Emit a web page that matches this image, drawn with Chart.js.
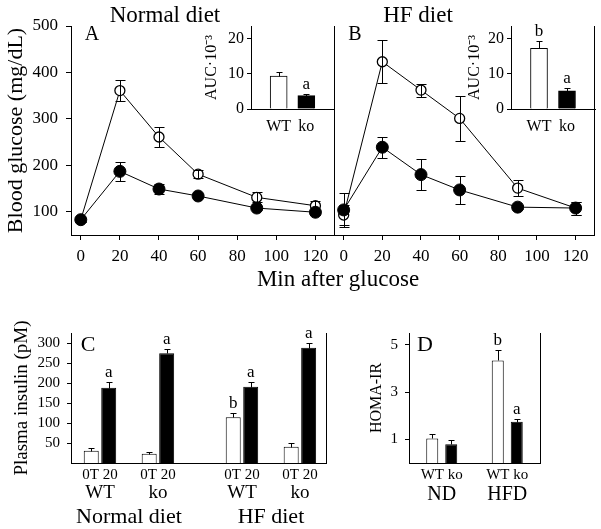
<!DOCTYPE html>
<html>
<head>
<meta charset="utf-8">
<title>Glucose tolerance, insulin and HOMA-IR</title>
<script src="https://cdn.jsdelivr.net/npm/chart.js@4.4.1/dist/chart.umd.min.js"></script>
<style>
    body { margin: 0; background: #fff; }
    #fig { position: relative; width: 601px; height: 529px; overflow: hidden; background: #fff; }
    #fig canvas { position: absolute; }
    .lbl { position: absolute; transform: translate(-50%, -50%); white-space: nowrap; line-height: 1;
           font-family: 'Liberation Serif', 'Times New Roman', serif; color: #000; }
</style>
</head>
<body>
<div id="fig">
    <canvas id="glucoseND" width="345" height="275" style="left:0;top:0"></canvas>
    <canvas id="glucoseHF" width="301" height="275" style="left:300px;top:0"></canvas>
    <canvas id="aucND" width="150" height="140" style="left:190px;top:0"></canvas>
    <canvas id="aucHF" width="151" height="140" style="left:450px;top:0"></canvas>
    <canvas id="insulin" width="340" height="234" style="left:0;top:295px"></canvas>
    <canvas id="homa" width="261" height="234" style="left:340px;top:295px"></canvas>
    <div class="lbl" style="left:165px;top:14px;font-size:23px">Normal diet</div>
    <div class="lbl" style="left:418px;top:14px;font-size:23px">HF diet</div>
    <div class="lbl" style="left:92px;top:33px;font-size:20px">A</div>
    <div class="lbl" style="left:355px;top:33px;font-size:20px">B</div>
    <div class="lbl" style="left:338px;top:278px;font-size:23px">Min after glucose</div>
    <div class="lbl" style="left:88px;top:344px;font-size:22px">C</div>
    <div class="lbl" style="left:425px;top:344px;font-size:22px">D</div>
</div>
<script>
    // glucose tolerance test (mean and SE)
    var minutes = [0, 20, 40, 60, 90, 120];
    var minuteTicks = [0, 20, 40, 60, 80, 100, 120];
    var glucoseTicks = [100, 200, 300, 400, 500];
    var ndWT = [83, 361, 261, 181, 131, 113];
    var ndWTse = [4, 22, 22, 9, 11, 10];
    var ndKO = [83, 187, 149, 134, 108, 99];
    var ndKOse = [4, 21, 10, 5, 5, 5];
    var hfWT = [93, 423, 362, 301, 151, 108];
    var hfWTse = [22, 46, 14, 48, 18, 14];
    var hfKO = [104, 239, 180, 147, 110, 108];
    var hfKOse = [36, 23, 33, 30, 5, 14];

    // AUC insets
    var aucGroups = ['WT', 'ko'];
    var aucTicks = [0, 5, 10, 15, 20];
    var aucND = [9.4, 3.8];
    var aucNDse = [1.1, 0.4];
    var aucNDsig = ['', 'a'];
    var aucHF = [17.3, 5.2];
    var aucHFse = [2.2, 0.9];
    var aucHFsig = ['b', 'a'];

    // plasma insulin
    var insulinTimes = ['0T', '20'];
    var insulinGenotypes = ['WT', 'ko', 'WT', 'ko'];
    var insulinDiets = ['Normal diet', 'HF diet'];
    var insulinTicks = [50, 100, 150, 200, 250, 300];
    var insulin0 = [31, 23, 115, 41];
    var insulin0se = [6, 4, 11.5, 8.5];
    var insulin0sig = ['', '', 'b', ''];
    var insulin20 = [189, 275, 191, 289];
    var insulin20se = [15, 10, 12.5, 12.5];
    var insulin20sig = ['a', 'a', 'a', 'a'];

    // HOMA-IR
    var homaDiets = ['ND', 'HFD'];
    var homaGenotypes = ['WT', 'ko'];
    var homaTicks = [1, 3, 5];
    var homaWT = [1.04, 4.34];
    var homaWTse = [0.17, 0.42];
    var homaWTsig = ['', 'b'];
    var homaKO = [0.79, 1.75];
    var homaKOse = [0.18, 0.12];
    var homaKOsig = ['', 'a'];

    var FONT = "'Liberation Serif', 'Times New Roman', serif";
    Chart.defaults.font.family = FONT;
    Chart.defaults.color = '#000';
    Chart.defaults.animation = false;
    Chart.defaults.responsive = false;
    Chart.defaults.plugins.legend.display = false;
    Chart.defaults.plugins.tooltip.enabled = false;

    function yValue(d) { return (d !== null && typeof d === 'object') ? d.y : d; }

    var errorBars = {
        id: 'errorBars',
        afterDatasetsDraw: function (chart) {
            var ctx = chart.ctx;
            chart.data.datasets.forEach(function (ds, i) {
                if (!ds.errors) return;
                var meta = chart.getDatasetMeta(i);
                var ys = chart.scales[meta.yAxisID];
                ctx.save();
                ctx.strokeStyle = '#000';
                ctx.lineWidth = 1;
                meta.data.forEach(function (el, j) {
                    var v = yValue(ds.data[j]);
                    var e = ds.errors[j];
                    if (!e) return;
                    var x = Math.round(el.x) + 0.5;
                    var cap = ds.capWidth / 2;
                    var top = Math.round(ys.getPixelForValue(v + e)) + 0.5;
                    var bottom = Math.round(ys.getPixelForValue(ds.errorUpOnly ? v : v - e)) + 0.5;
                    ctx.beginPath();
                    ctx.moveTo(x, top);
                    ctx.lineTo(x, bottom);
                    ctx.moveTo(x - cap, top);
                    ctx.lineTo(x + cap, top);
                    if (!ds.errorUpOnly) {
                        ctx.moveTo(x - cap, bottom);
                        ctx.lineTo(x + cap, bottom);
                    }
                    ctx.stroke();
                });
                ctx.restore();
            });
        }
    };

    var sigLetters = {
        id: 'sigLetters',
        afterDatasetsDraw: function (chart) {
            var ctx = chart.ctx;
            chart.data.datasets.forEach(function (ds, i) {
                if (!ds.sig) return;
                var meta = chart.getDatasetMeta(i);
                var ys = chart.scales[meta.yAxisID];
                ctx.save();
                ctx.fillStyle = '#000';
                ctx.font = '17px ' + FONT;
                ctx.textAlign = 'center';
                ctx.textBaseline = 'alphabetic';
                meta.data.forEach(function (el, j) {
                    if (!ds.sig[j]) return;
                    var top = yValue(ds.data[j]) + (ds.errors ? ds.errors[j] : 0);
                    ctx.fillText(ds.sig[j], el.x, ys.getPixelForValue(top) - 5);
                });
                ctx.restore();
            });
        }
    };

    // labels under grouped bars: one row per level of grouping
    var underLabels = {
        id: 'underLabels',
        afterDraw: function (chart, args, opts) {
            if (!opts.rows) return;
            var m0 = chart.getDatasetMeta(0);
            var m1 = chart.getDatasetMeta(1);
            var centers = m0.data.map(function (el, i) { return (el.x + m1.data[i].x) / 2; });
            var ctx = chart.ctx;
            ctx.save();
            ctx.fillStyle = '#000';
            ctx.textAlign = 'center';
            ctx.textBaseline = 'middle';
            opts.rows.forEach(function (row) {
                ctx.font = row.size + 'px ' + FONT;
                var span = row.span || 1;
                row.texts.forEach(function (t, k) {
                    var x = 0;
                    for (var n = 0; n < span; n++) x += centers[k * span + n];
                    ctx.fillText(t, x / span, chart.chartArea.bottom + row.offset);
                });
            });
            ctx.restore();
        }
    };

    function fixedTicks(values) {
        return function (scale) {
            scale.ticks = values.map(function (v) { return { value: v }; });
        };
    }

    var tickGrid = function (len) {
        return { display: true, drawOnChartArea: false, drawTicks: true, tickLength: len, color: '#000' };
    };
    var noGrid = { display: false, drawTicks: false };
    var blackBorder = { display: true, color: '#000', width: 1 };

    function frameAxis(position) {
        return {
            position: position, display: true,
            grid: noGrid, border: blackBorder, ticks: { display: false },
            afterFit: function (s) { s.width = 0; }
        };
    }

    function glucoseChart(id, wt, wtSe, ko, koSe, first) {
        var yAxis = {
            min: 50, max: 500,
            afterBuildTicks: fixedTicks(glucoseTicks),
            border: blackBorder,
            afterFit: function (s) { s.width = first ? 71 : 34; }
        };
        if (first) {
            yAxis.grid = tickGrid(5);
            yAxis.ticks = { font: { size: 17 }, padding: 8 };
            yAxis.title = { display: true, text: 'Blood glucose (mg/dL)', font: { size: 22 }, padding: { top: 3, bottom: 0 } };
        } else {
            yAxis.grid = noGrid;
            yAxis.ticks = { display: false };
        }
        var scales = {
            x: {
                type: 'linear', min: -5, max: 129.5,
                afterBuildTicks: fixedTicks(minuteTicks),
                grid: tickGrid(5),
                border: blackBorder,
                ticks: { font: { size: 17 }, padding: 6, maxRotation: 0, autoSkip: false },
                afterFit: function (s) { s.height = 40; }
            },
            y: yAxis
        };
        if (!first) scales.yR = frameAxis('right');
        return new Chart(document.getElementById(id), {
            type: 'line',
            data: {
                datasets: [{
                    label: 'ko',
                    data: minutes.map(function (m, i) { return { x: m, y: ko[i] }; }),
                    errors: koSe, capWidth: 10,
                    borderColor: '#000', borderWidth: 1,
                    pointRadius: 6, pointBackgroundColor: '#000', pointBorderColor: '#000', pointBorderWidth: 1
                }, {
                    label: 'WT',
                    data: minutes.map(function (m, i) { return { x: m, y: wt[i] }; }),
                    errors: wtSe, capWidth: 10,
                    borderColor: '#000', borderWidth: 1,
                    pointRadius: 5, pointBackgroundColor: '#fff', pointBorderColor: '#000', pointBorderWidth: 1.3
                }]
            },
            options: {
                layout: { padding: { top: 26, right: first ? 11 : 5, left: 0, bottom: 0 } },
                scales: scales
            },
            plugins: [errorBars]
        });
    }

    function aucChart(id, values, se, sig, padRight, titlePad) {
        return new Chart(document.getElementById(id), {
            type: 'bar',
            data: {
                datasets: [{
                    data: values.map(function (v, i) { return { x: i + 1, y: v }; }),
                    backgroundColor: ['#fff', '#000'],
                    borderColor: '#000', borderWidth: 1,
                    barThickness: 17,
                    errors: se, errorUpOnly: true, capWidth: 6, sig: sig
                }]
            },
            options: {
                layout: { padding: { top: 26, right: padRight, left: 0, bottom: 0 } },
                scales: {
                    x: {
                        type: 'linear', min: 0, max: 3, offset: false,
                        afterBuildTicks: fixedTicks([1, 2]),
                        grid: noGrid, border: blackBorder,
                        ticks: {
                            font: { size: 16 }, padding: 8, maxRotation: 0,
                            callback: function (v) { return aucGroups[Math.round(v) - 1]; }
                        },
                        afterFit: function (s) { s.height = 31; }
                    },
                    y: {
                        min: 0, max: 23.7,
                        afterBuildTicks: fixedTicks(aucTicks),
                        grid: tickGrid(4), border: blackBorder,
                        ticks: { font: { size: 16 }, padding: 3 },
                        title: { display: true, text: 'AUC\u00b710\u207b\u00b3', font: { size: 16 }, padding: { top: titlePad, bottom: 0 } },
                        afterFit: function (s) { s.width = 61; }
                    }
                }
            },
            plugins: [errorBars, sigLetters]
        });
    }

    glucoseChart('glucoseND', ndWT, ndWTse, ndKO, ndKOse, true);
    glucoseChart('glucoseHF', hfWT, hfWTse, hfKO, hfKOse, false);
    aucChart('aucND', aucND, aucNDse, aucNDsig, 6, 12);
    aucChart('aucHF', aucHF, aucHFse, aucHFsig, 6, 15);

    // group slots along the insulin axis (normal diet pair, gap, HF diet pair)
    var insulinSlots = [0, 1, 2.45, 3.45];

    new Chart(document.getElementById('insulin'), {
        type: 'bar',
        data: {
            datasets: [{
                label: insulinTimes[0],
                data: insulin0.map(function (v, i) { return { x: insulinSlots[i], y: v }; }),
                backgroundColor: '#fff', borderColor: '#000', borderWidth: 1,
                errors: insulin0se, errorUpOnly: true, capWidth: 6, sig: insulin0sig
            }, {
                label: insulinTimes[1],
                data: insulin20.map(function (v, i) { return { x: insulinSlots[i], y: v }; }),
                backgroundColor: '#000', borderColor: '#000', borderWidth: 1,
                errors: insulin20se, errorUpOnly: true, capWidth: 6, sig: insulin20sig
            }]
        },
        options: {
            datasets: { bar: { categoryPercentage: 0.6034, barPercentage: 0.857 } },
            layout: { padding: { top: 38, right: 14, left: 0, bottom: 0 } },
            scales: {
                x: {
                    type: 'linear', min: -0.5, max: 3.9, offset: false,
                    afterBuildTicks: fixedTicks(insulinSlots),
                    grid: noGrid, border: blackBorder,
                    ticks: { display: false },
                    afterFit: function (s) { s.height = 66; }
                },
                y: {
                    min: 0, max: 326,
                    afterBuildTicks: fixedTicks(insulinTicks),
                    grid: tickGrid(4), border: blackBorder,
                    ticks: { font: { size: 15 }, padding: 7 },
                    title: { display: true, text: 'Plasma insulin (pM)', font: { size: 19 }, padding: { top: 11, bottom: 0 } },
                    afterFit: function (s) { s.width = 71; }
                },
                yR: frameAxis('right')
            },
            plugins: {
                underLabels: {
                    rows: [
                        { texts: insulinGenotypes.map(function () { return insulinTimes.join(' '); }), size: 15, offset: 12 },
                        { texts: insulinGenotypes, size: 19, offset: 30 },
                        { texts: insulinDiets, size: 22, offset: 54, span: 2 }
                    ]
                }
            }
        },
        plugins: [errorBars, sigLetters, underLabels]
    });

    new Chart(document.getElementById('homa'), {
        type: 'bar',
        data: {
            labels: homaDiets,
            datasets: [{
                label: homaGenotypes[0],
                data: homaWT,
                backgroundColor: '#fff', borderColor: '#000', borderWidth: 1,
                errors: homaWTse, errorUpOnly: true, capWidth: 6, sig: homaWTsig
            }, {
                label: homaGenotypes[1],
                data: homaKO,
                backgroundColor: '#000', borderColor: '#000', borderWidth: 1,
                errors: homaKOse, errorUpOnly: true, capWidth: 6, sig: homaKOsig
            }]
        },
        options: {
            datasets: { bar: { categoryPercentage: 0.58, barPercentage: 0.632 } },
            layout: { padding: { top: 38, right: 61, left: 0, bottom: 0 } },
            scales: {
                x: {
                    grid: noGrid, border: blackBorder,
                    ticks: { display: false },
                    afterFit: function (s) { s.height = 66; }
                },
                y: {
                    min: 0, max: 5.5,
                    afterBuildTicks: fixedTicks(homaTicks),
                    grid: tickGrid(4), border: blackBorder,
                    ticks: { font: { size: 15 }, padding: 7 },
                    title: { display: true, text: 'HOMA-IR', font: { size: 16 }, padding: { top: 27, bottom: 0 } },
                    afterFit: function (s) { s.width = 69; }
                },
                yR: frameAxis('right')
            },
            plugins: {
                underLabels: {
                    rows: [
                        { texts: homaDiets.map(function () { return homaGenotypes.join(' '); }), size: 15, offset: 12 },
                        { texts: homaDiets, size: 20, offset: 32 }
                    ]
                }
            }
        },
        plugins: [errorBars, sigLetters, underLabels]
    });
</script>
</body>
</html>
